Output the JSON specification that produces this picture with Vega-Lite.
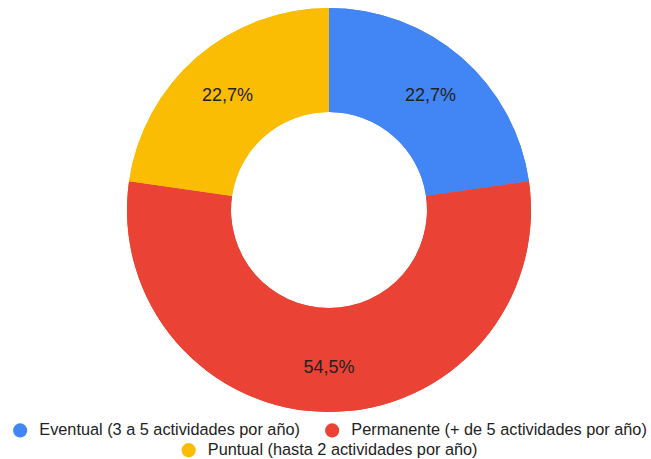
{
  "$schema": "https://vega.github.io/schema/vega-lite/v6.json",
  "width": 658,
  "height": 420,
  "autosize": {"type": "none"},
  "padding": {"left": 0, "top": 0, "right": 0, "bottom": 39},
  "background": "white",
  "data": {
    "values": [
      {"categoria": "Eventual (3 a 5 actividades por año)", "fraccion": 0.227},
      {"categoria": "Permanente (+ de 5 actividades por año)", "fraccion": 0.545},
      {"categoria": "Puntual (hasta 2 actividades por año)", "fraccion": 0.227}
    ]
  },
  "encoding": {
    "theta": {"field": "fraccion", "type": "quantitative", "stack": true},
    "order": {"field": "categoria", "type": "nominal", "sort": "ascending"}
  },
  "layer": [
    {
      "mark": {"type": "arc", "radius": 202, "innerRadius": 98},
      "encoding": {
        "color": {
          "field": "categoria",
          "type": "nominal",
          "scale": {
            "domain": ["Eventual (3 a 5 actividades por año)", "Permanente (+ de 5 actividades por año)", "Puntual (hasta 2 actividades por año)"],
            "range": ["#4285F4", "#EA4335", "#FBBC04"]
          },
          "legend": {
            "title": null,
            "orient": "bottom",
            "direction": "horizontal",
            "values": ["Eventual (3 a 5 actividades por año)", "Permanente (+ de 5 actividades por año)"]
          }
        }
      }
    },
    {
      "mark": {"type": "arc", "radius": 202, "innerRadius": 98},
      "encoding": {
        "color": {
          "field": "categoria",
          "type": "nominal",
          "scale": {
            "domain": ["Eventual (3 a 5 actividades por año)", "Permanente (+ de 5 actividades por año)", "Puntual (hasta 2 actividades por año)"],
            "range": ["#4285F4", "#EA4335", "#FBBC04"]
          },
          "legend": {
            "title": null,
            "orient": "bottom",
            "direction": "horizontal",
            "values": ["Puntual (hasta 2 actividades por año)"]
          }
        }
      }
    },
    {
      "mark": {"type": "text", "radius": 155, "dy": 3, "fontSize": 18, "font": "Liberation Sans", "color": "#222222"},
      "encoding": {
        "text": {"field": "fraccion", "type": "quantitative", "format": ".1%"}
      }
    }
  ],
  "resolve": {
    "scale": {"color": "independent"},
    "legend": {"color": "independent"}
  },
  "config": {
    "view": {"stroke": null},
    "locale": {
      "number": {"decimal": ",", "thousands": ".", "grouping": [3], "currency": ["", " €"]}
    },
    "legend": {
      "labelFont": "Liberation Sans",
      "labelFontSize": 16.3,
      "labelColor": "#222222",
      "labelLimit": 400,
      "symbolType": "circle",
      "symbolSize": 200,
      "symbolStrokeWidth": 0,
      "labelOffset": 11,
      "columnPadding": 24,
      "offset": 2,
      "padding": 0,
      "layout": {
        "bottom": {"anchor": "middle", "direction": "vertical", "center": true, "margin": 3}
      }
    }
  }
}
